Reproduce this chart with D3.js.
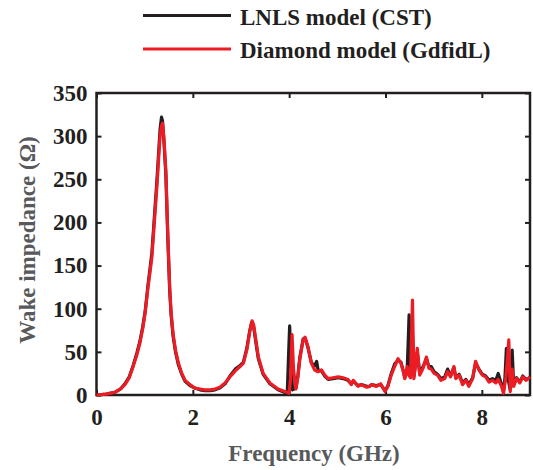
<!DOCTYPE html>
<html>
<head>
<meta charset="utf-8">
<script src="https://cdn.jsdelivr.net/npm/d3@7"></script>
<style>
  html, body { margin: 0; padding: 0; background: #fff; }
  svg { display: block; }
  text { font-family: "Liberation Serif", "Times New Roman", serif; font-weight: bold; }
</style>
</head>
<body>
<svg id="chart" width="533" height="470"></svg>
<script>
// Wake impedance spectra, [frequency (GHz), impedance (Ω)]
const seriesNames = ["LNLS model (CST)", "Diamond model (GdfidL)"];
const seriesColors = ["#231f20", "#ed1c24"];

const cstPoints = [
  [0,0],[0.2,1],[0.38,3],[0.5,7],[0.59,13],[0.68,21],[0.76,34],[0.84,49],[0.9,62],[0.96,79],
  [1.01,97],[1.07,128],[1.11,146],[1.15,165],[1.21,213],[1.25,245],[1.28,272],[1.32,308],[1.35,322],[1.37,318],
  [1.4,294],[1.44,255],[1.48,182],[1.52,120],[1.55,92],[1.59,68],[1.64,50],[1.7,35],[1.77,24],[1.84,16],
  [1.94,11],[2.04,8],[2.15,6],[2.25,5],[2.36,5],[2.46,6],[2.56,8],[2.67,13],[2.77,22],[2.88,30],
  [2.98,34],[3.05,38],[3.12,54],[3.18,74],[3.22,84],[3.26,80],[3.29,68],[3.36,42],[3.46,24],[3.6,13],
  [3.77,6],[3.91,3],[3.96,2],[3.99,50],[4.01,80],[4.04,40],[4.07,6],[4.14,8],[4.18,22],[4.22,43],
  [4.29,65],[4.33,66],[4.39,55],[4.46,38],[4.52,33],[4.57,39],[4.6,29],[4.67,28],[4.74,22],[4.81,18],
  [4.91,19],[5.02,20],[5.12,19],[5.22,17],[5.29,13],[5.33,16],[5.43,11],[5.5,12],[5.61,10],[5.67,10],
  [5.71,12],[5.81,11],[5.9,12],[5.99,5],[6.05,11],[6.12,25],[6.19,36],[6.26,40],[6.32,38],[6.37,28],
  [6.4,20],[6.45,30],[6.47,60],[6.49,93],[6.52,25],[6.56,70],[6.59,22],[6.66,50],[6.71,25],[6.78,33],
  [6.85,42],[6.9,33],[6.95,33],[7.01,27],[7.08,24],[7.15,19],[7.23,21],[7.29,30],[7.35,22],[7.42,32],
  [7.46,20],[7.53,24],[7.6,14],[7.67,18],[7.73,12],[7.81,20],[7.87,37],[7.94,30],[8.01,24],[8.08,22],
  [8.15,17],[8.22,19],[8.29,17],[8.34,25],[8.41,12],[8.45,4],[8.48,20],[8.51,54],[8.54,20],[8.59,6],
  [8.63,52],[8.66,12],[8.72,20],[8.79,15],[8.85,22],[8.92,18],[9.0,20]
];

const gdfidlPoints = [
  [0,0],[0.2,1],[0.38,3],[0.5,7],[0.59,12],[0.68,20],[0.76,33],[0.84,47],[0.9,60],[0.96,77],
  [1.01,95],[1.07,125],[1.11,142],[1.15,160],[1.21,207],[1.25,238],[1.28,265],[1.32,300],[1.35,312],[1.37,315],
  [1.4,298],[1.44,260],[1.48,187],[1.52,125],[1.55,95],[1.59,71],[1.64,52],[1.7,37],[1.77,25],[1.84,17],
  [1.94,12],[2.04,8],[2.15,7],[2.25,6],[2.36,6],[2.46,7],[2.56,9],[2.67,14],[2.77,21],[2.88,28],
  [2.98,33],[3.05,37],[3.12,52],[3.18,73],[3.23,86],[3.26,82],[3.29,71],[3.36,44],[3.46,25],[3.6,14],
  [3.77,7],[3.91,4],[4.0,2],[4.03,20],[4.06,70],[4.09,30],[4.14,7],[4.18,20],[4.22,41],[4.29,64],
  [4.33,67],[4.39,56],[4.46,37],[4.53,29],[4.6,27],[4.67,29],[4.74,23],[4.81,19],[4.91,20],[5.02,21],
  [5.12,20],[5.22,18],[5.29,12],[5.33,17],[5.43,10],[5.5,12],[5.61,9],[5.67,10],[5.71,12],[5.81,10],
  [5.9,13],[5.99,4],[6.05,10],[6.12,23],[6.19,33],[6.26,42],[6.32,37],[6.37,27],[6.4,19],[6.45,33],
  [6.48,23],[6.52,20],[6.56,110],[6.59,19],[6.66,54],[6.71,23],[6.78,31],[6.85,44],[6.9,31],[6.95,30],
  [7.01,25],[7.08,23],[7.15,17],[7.23,19],[7.29,27],[7.35,21],[7.42,33],[7.46,19],[7.53,23],[7.6,12],
  [7.67,17],[7.73,10],[7.81,19],[7.87,39],[7.94,29],[8.01,23],[8.08,21],[8.15,15],[8.22,17],[8.29,14],
  [8.34,18],[8.41,10],[8.45,2],[8.5,21],[8.53,40],[8.56,64],[8.59,4],[8.63,30],[8.66,10],[8.72,19],
  [8.79,14],[8.85,21],[8.92,17],[9.0,21]
];

const xTicks = [0, 2, 4, 6, 8];
const yTicks = [0, 50, 100, 150, 200, 250, 300, 350];
const xDomain = [0, 9];
const yDomain = [0, 350];

const svg = d3.select("#chart");
const plot = { left: 96.5, right: 530, top: 93, bottom: 395 };

const x = d3.scaleLinear().domain(xDomain).range([plot.left, plot.right]);
const y = d3.scaleLinear().domain(yDomain).range([plot.bottom, plot.top]);

const axisColor = "#231f20";
const titleColor = "#58595b";
const tickLen = 5;

// Axes: ticks point inward on all four sides
function styleAxis(g) {
  g.select(".domain").remove();
  g.selectAll(".tick line").attr("stroke", axisColor).attr("stroke-width", 2);
  g.selectAll(".tick text")
    .attr("fill", axisColor)
    .style("font-size", "23px")
    .style("font-family", "'Liberation Serif', serif")
    .style("font-weight", "bold");
}

svg.append("g")
  .attr("transform", `translate(0,${plot.bottom})`)
  .call(d3.axisBottom(x).tickValues(xTicks).tickFormat(d3.format("d")).tickSizeInner(-tickLen).tickSizeOuter(0).tickPadding(14))
  .call(styleAxis)
  .call(g => g.selectAll(".tick text").attr("dy", "0.71em"));

svg.append("g")
  .attr("transform", `translate(0,${plot.top})`)
  .call(d3.axisTop(x).tickValues(xTicks).tickFormat("").tickSizeInner(-tickLen).tickSizeOuter(0))
  .call(styleAxis);

svg.append("g")
  .attr("transform", `translate(${plot.left},0)`)
  .call(d3.axisLeft(y).tickValues(yTicks).tickFormat(d3.format("d")).tickSizeInner(-tickLen).tickSizeOuter(0).tickPadding(9))
  .call(styleAxis);

svg.append("g")
  .attr("transform", `translate(${plot.right},0)`)
  .call(d3.axisRight(y).tickValues(yTicks).tickFormat("").tickSizeInner(-tickLen).tickSizeOuter(0))
  .call(styleAxis);

// Plot frame
svg.append("rect")
  .attr("x", plot.left).attr("y", plot.top)
  .attr("width", plot.right - plot.left).attr("height", plot.bottom - plot.top)
  .attr("fill", "none").attr("stroke", axisColor).attr("stroke-width", 2.5);

// Spectra
const line = d3.line().x(d => x(d[0])).y(d => y(d[1])).curve(d3.curveLinear);
[cstPoints, gdfidlPoints].forEach((pts, i) => {
  svg.append("path")
    .datum(pts)
    .attr("d", line)
    .attr("fill", "none")
    .attr("stroke", seriesColors[i])
    .attr("stroke-width", 3.2)
    .attr("stroke-linejoin", "round");
});

// Axis titles
svg.append("text")
  .attr("x", 314).attr("y", 461)
  .attr("text-anchor", "middle")
  .attr("fill", titleColor)
  .style("font-size", "23px")
  .text("Frequency (GHz)");

svg.append("text")
  .attr("transform", "translate(35,240) rotate(-90)")
  .attr("text-anchor", "middle")
  .attr("fill", titleColor)
  .style("font-size", "23px")
  .text("Wake impedance (Ω)");

// Legend
const legend = svg.append("g");
const legendRows = [15.5, 49];
seriesNames.forEach((name, i) => {
  legend.append("line")
    .attr("x1", 143).attr("x2", 231)
    .attr("y1", legendRows[i]).attr("y2", legendRows[i])
    .attr("stroke", seriesColors[i]).attr("stroke-width", 3);
  legend.append("text")
    .attr("x", 240).attr("y", legendRows[i] + 9)
    .attr("fill", axisColor)
    .style("font-size", "23px")
    .text(name);
});
</script>
</body>
</html>
